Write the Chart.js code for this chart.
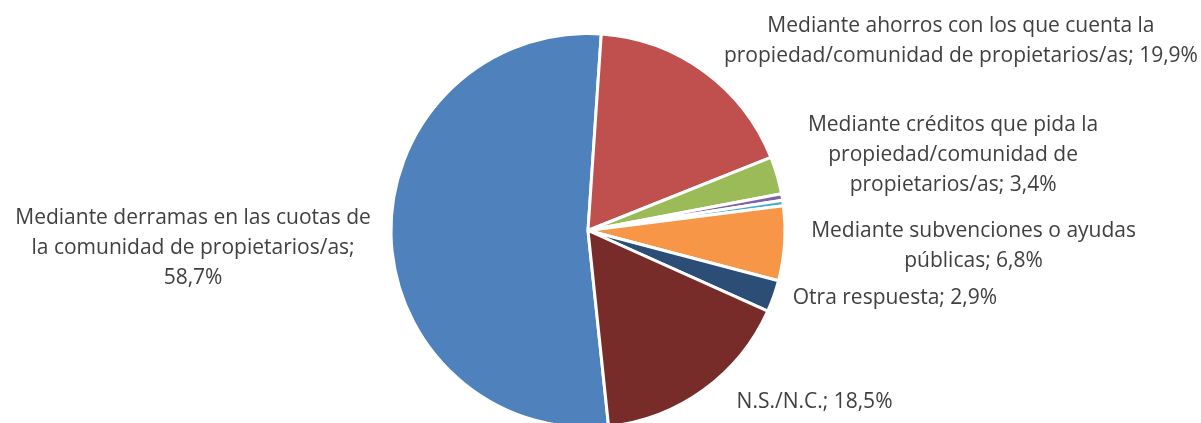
<!DOCTYPE html>
<html lang="es">
<head>
<meta charset="utf-8">
<title>Financiación de las obras</title>
<script src="https://cdn.jsdelivr.net/npm/chart.js@4.4.1/dist/chart.umd.min.js"></script>
<style>
  html, body { margin: 0; padding: 0; background: #fff; overflow: hidden; }
  #wrap { position: relative; width: 1201px; height: 440px; }
</style>
</head>
<body>
<div id="wrap"><canvas id="pie"></canvas></div>
<script>
// ── Data ─────────────────────────────────────
// '\n' marks where each label wraps
const CATEGORIES = [
  'Mediante derramas en las cuotas de\nla comunidad de propietarios/as',
  'Mediante ahorros con los que cuenta la\npropiedad/comunidad de propietarios/as',
  'Mediante créditos que pida la\npropiedad/comunidad de\npropietarios/as',
  'Mediante aportaciones de particulares',
  'Mediante otras fórmulas de financiación',
  'Mediante subvenciones o ayudas\npúblicas',
  'Otra respuesta',
  'N.S./N.C.'
];
const VALUES = [58.7, 19.9, 3.4, 0.6, 0.5, 6.8, 2.9, 18.5];
const COLORS = ['#4F81BD', '#C0504D', '#9BBB59', '#8064A2',
                '#4BACC6', '#F79646', '#2C4D75', '#772C2A'];

// ── Label placement (offset from slice edge midpoint) ──
const LABEL_LAYOUT = [
  { dx: -198, dy: 14, align: 'center', valueOnNewLine: true },
  { dx: 257,  dy: -30, align: 'center' },
  { dx: 176,  dy: -20, align: 'center' },
  null,
  null,
  { dx: 189,  dy: 3,  align: 'center' },
  { dx: 19,   dy: 2,  align: 'left' },
  { dx: 33,   dy: 12, align: 'left' }
];

const FONT = '21px "Open Sans", sans-serif';
const LINE_H = 30;
const TEXT_COLOR = '#404040';

const fmtPct = v => v.toFixed(1).replace('.', ',') + '%';

function labelLines(i) {
  const lines = CATEGORIES[i].split('\n');
  const pct = fmtPct(VALUES[i]);
  if (LABEL_LAYOUT[i].valueOnNewLine) {
    lines[lines.length - 1] += ';';
    lines.push(pct);
  } else {
    lines[lines.length - 1] += '; ' + pct;
  }
  return lines;
}

// ── Outside labels ───────────────────────────
const outsideLabels = {
  id: 'outsideLabels',
  afterDatasetsDraw(chart) {
    const ctx = chart.ctx;
    const arcs = chart.getDatasetMeta(0).data;
    ctx.save();
    ctx.font = FONT;
    ctx.fillStyle = TEXT_COLOR;
    ctx.textBaseline = 'middle';
    arcs.forEach((arc, i) => {
      const lay = LABEL_LAYOUT[i];
      if (!lay) return;
      const p = arc.getProps(['x', 'y', 'startAngle', 'endAngle', 'outerRadius'], true);
      const mid = (p.startAngle + p.endAngle) / 2;
      const ax = p.x + Math.cos(mid) * p.outerRadius + lay.dx;
      const ay = p.y + Math.sin(mid) * p.outerRadius + lay.dy;
      const lines = labelLines(i);
      ctx.textAlign = lay.align;
      const top = ay - (lines.length - 1) * LINE_H / 2;
      lines.forEach((ln, k) => ctx.fillText(ln, ax, top + k * LINE_H));
    });
    ctx.restore();
  }
};

new Chart(document.getElementById('pie'), {
  type: 'pie',
  data: {
    labels: CATEGORIES,
    datasets: [{
      data: VALUES,
      backgroundColor: COLORS,
      borderColor: '#ffffff',
      borderWidth: 3
    }]
  },
  options: {
    responsive: true,
    maintainAspectRatio: false,
    animation: false,
    rotation: 174,
    layout: { padding: { left: 0, right: 25, top: 32, bottom: 11 } },
    plugins: {
      legend: { display: false },
      tooltip: { enabled: false }
    }
  },
  plugins: [outsideLabels]
});
</script>
</body>
</html>
